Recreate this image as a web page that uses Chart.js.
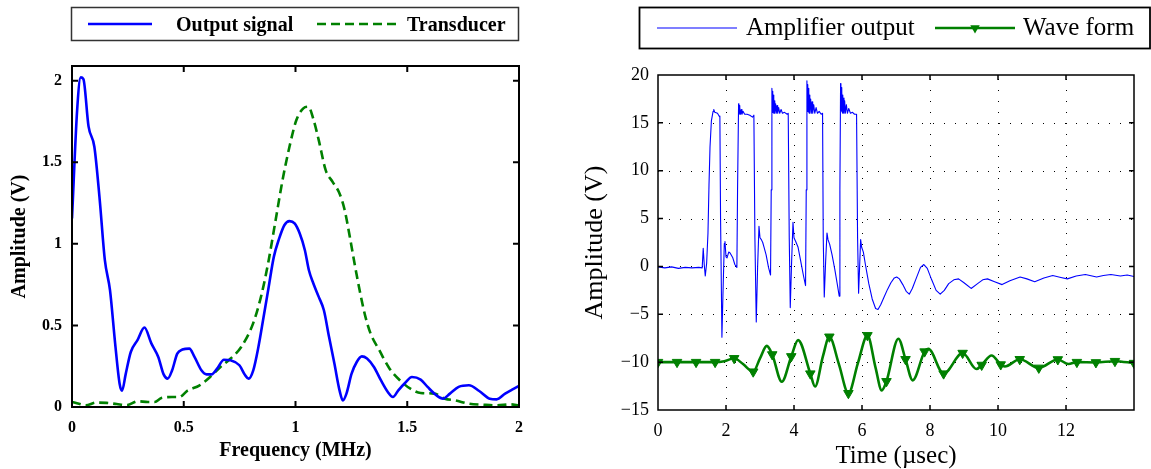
<!DOCTYPE html>
<html>
<head>
<meta charset="utf-8">
<script src="https://cdn.jsdelivr.net/npm/chart.js@4.4.1/dist/chart.umd.min.js"></script>
<style>
    html, body { margin: 0; padding: 0; background: #fff; }
    #wrap { position: relative; width: 1151px; height: 469px; overflow: hidden; }
    canvas { position: absolute; top: 0; }
    #specChart { left: 0; }
    #timeChart { left: 580px; }
</style>
</head>
<body>
<div id="wrap">
    <canvas id="specChart" width="560" height="469"></canvas>
    <canvas id="timeChart" width="571" height="469"></canvas>
</div>
<script>

// =========================================
// DATA - spectrum (left)
// =========================================

var freqTicks = [0, 0.5, 1, 1.5, 2];
var specAmpTicks = [0, 0.5, 1, 1.5, 2];

var outFreq = [0, 0.023, 0.039, 0.051, 0.074, 0.10, 0.124, 0.147, 0.17, 0.193, 0.213, 0.224, 0.24, 0.263, 0.293,
    0.324, 0.355, 0.386, 0.41, 0.428, 0.448, 0.471, 0.494, 0.525, 0.548, 0.579, 0.602, 0.625, 0.649, 0.68,
    0.71, 0.749, 0.775, 0.79, 0.811, 0.834, 0.857, 0.88, 0.903, 0.927, 0.95, 0.973, 0.996, 1.019, 1.042,
    1.06, 1.08, 1.104, 1.127, 1.15, 1.174, 1.197, 1.212, 1.228, 1.251, 1.274, 1.297, 1.32, 1.351, 1.382,
    1.413, 1.436, 1.46, 1.49, 1.521, 1.56, 1.591, 1.63, 1.66, 1.691, 1.73, 1.776, 1.822, 1.869, 1.9,
    1.938, 1.969, 2.0];
var outAmp = [1.155, 1.82, 2.02, 2.01, 1.72, 1.595, 1.27, 0.90, 0.716, 0.39, 0.143, 0.10, 0.20, 0.337, 0.41,
    0.487, 0.39, 0.307, 0.20, 0.174, 0.225, 0.327, 0.352, 0.358, 0.307, 0.225, 0.20, 0.20, 0.235, 0.29,
    0.286, 0.256, 0.194, 0.174, 0.225, 0.368, 0.55, 0.736, 0.92, 1.033, 1.114, 1.139, 1.125, 1.063, 0.961,
    0.838, 0.757, 0.675, 0.593, 0.43, 0.266, 0.102, 0.04, 0.082, 0.204, 0.276, 0.31, 0.297, 0.245, 0.164,
    0.092, 0.061, 0.102, 0.147, 0.184, 0.168, 0.123, 0.072, 0.051, 0.082, 0.123, 0.133, 0.098, 0.051, 0.047,
    0.082, 0.106, 0.129];

var transFreq = [0, 0.031, 0.062, 0.108, 0.154, 0.2, 0.247, 0.293, 0.34, 0.37, 0.40, 0.448, 0.479, 0.517,
    0.571, 0.618, 0.664, 0.71, 0.757, 0.81, 0.849, 0.88, 0.911, 0.942, 0.973, 1.004, 1.035, 1.058, 1.081,
    1.104, 1.135, 1.166, 1.197, 1.22, 1.243, 1.267, 1.29, 1.313, 1.336, 1.375, 1.421, 1.467, 1.514, 1.56,
    1.622, 1.668, 1.714, 1.776, 1.838, 1.9, 1.961, 2.0];
var transAmp = [0.031, 0.02, 0.01, 0.027, 0.025, 0.018, 0.012, 0.035, 0.031, 0.031, 0.055, 0.061, 0.061, 0.10,
    0.133, 0.184, 0.245, 0.297, 0.368, 0.511, 0.695, 0.90, 1.145, 1.39, 1.595, 1.759, 1.83, 1.84, 1.759,
    1.636, 1.452, 1.38, 1.309, 1.207, 1.043, 0.859, 0.695, 0.552, 0.45, 0.348, 0.235, 0.164, 0.112, 0.086,
    0.082, 0.051, 0.041, 0.02, 0.014, 0.01, 0.016, 0.01];

// =========================================
// DATA - time signals (right)
// =========================================

var timeTicks = [0, 2, 4, 6, 8, 10, 12];
var voltTicks = [-15, -10, -5, 0, 5, 10, 15, 20];

var ampTime = [
    0, 0.2, 0.4, 0.6, 0.8, 1.0, 1.2, 1.30,
    1.33, 1.36, 1.39, 1.43, 1.47, 1.50, 1.53, 1.57, 1.62, 1.64, 1.67, 1.75, 1.80, 1.82,
    1.84, 1.88, 1.91, 1.95, 1.97, 2.00, 2.03, 2.08, 2.12, 2.20, 2.26, 2.32,
    2.34, 2.37, 2.38, 2.39, 2.40, 2.41, 2.43, 2.45, 2.47, 2.50, 2.55, 2.62, 2.70, 2.78, 2.82,
    2.85, 2.89, 2.93, 2.97, 3.00, 3.04, 3.08, 3.12, 3.18, 3.25, 3.31,
    3.33, 3.35, 3.36, 3.37, 3.38, 3.39, 3.40, 3.41, 3.42, 3.43, 3.44, 3.46, 3.48, 3.50, 3.52, 3.55, 3.58, 3.62, 3.66, 3.72, 3.80, 3.83,
    3.86, 3.89, 3.93, 3.97, 4.00, 4.05, 4.12, 4.20, 4.28, 4.34,
    4.36, 4.38, 4.39, 4.40, 4.41, 4.42, 4.43, 4.44, 4.45, 4.46, 4.47, 4.49, 4.51, 4.53, 4.55, 4.58, 4.61, 4.65, 4.69, 4.74, 4.80, 4.84,
    4.86, 4.89, 4.93, 4.97, 5.00, 5.05, 5.12, 5.20, 5.28, 5.33,
    5.35, 5.37, 5.38, 5.39, 5.40, 5.41, 5.42, 5.43, 5.44, 5.45, 5.47, 5.49, 5.51, 5.54, 5.57, 5.61, 5.66, 5.72, 5.78, 5.84,
    5.87, 5.90, 5.93, 5.96, 5.99, 6.04, 6.10, 6.20, 6.30, 6.40, 6.47, 6.55, 6.65, 6.75, 6.85, 6.95,
    7.02, 7.10, 7.20, 7.30, 7.39, 7.48, 7.60, 7.72, 7.82, 7.92, 8.05, 8.18, 8.30, 8.42, 8.55, 8.70,
    8.84, 9.00, 9.21, 9.40, 9.55, 9.69, 9.90, 10.12, 10.35, 10.65, 10.85, 11.08, 11.35, 11.61, 11.85,
    12.04, 12.3, 12.57, 12.9, 13.1, 13.32, 13.6, 13.8, 14.0];
var ampVolt = [
    -0.05, -0.15, -0.05, -0.2, -0.1, -0.15, -0.1, -0.15,
    1.9, 0.2, -1.0, 0.3, 3.5, 8.5, 12.5, 15.2, 16.2, 16.4, 16.1, 16.0, 15.7, 15.6,
    5.0, -7.4, -3.0, 2.4, 2.6, 1.0, 0.9, 1.5, 1.4, 0.9, 0.2, -0.1,
    8.0, 17.0, 16.0, 16.8, 15.9, 16.6, 15.9, 16.4, 15.9, 16.2, 15.9, 15.9, 15.8, 15.6, 15.8,
    3.0, -5.8, 0.0, 4.2, 3.0, 2.8, 2.5, 2.0, 1.2, -0.1, -0.9,
    8.0, 18.6, 16.2, 18.3, 16.1, 17.9, 16.0, 17.6, 16.0, 17.3, 16.0, 17.0, 16.0, 16.8, 16.0, 16.6, 16.0, 16.4, 16.0, 16.1, 15.9, 16.0,
    3.0, -4.3, 0.5, 4.6, 3.0, 2.6, 2.0, 0.5, -1.0, -2.0,
    8.0, 19.4, 16.3, 19.0, 16.2, 18.6, 16.1, 18.2, 16.0, 17.9, 16.0, 17.5, 16.0, 17.2, 16.0, 16.9, 16.0, 16.6, 16.0, 16.2, 15.9, 16.0,
    3.0, -3.2, 0.5, 3.5, 2.8, 2.3, 1.2, -0.3, -2.0, -3.1,
    8.0, 19.1, 16.3, 18.7, 16.2, 18.3, 16.1, 17.9, 16.0, 17.6, 16.0, 17.3, 16.0, 16.9, 16.0, 16.5, 16.0, 16.1, 15.9, 15.9,
    3.0, -2.8, 0.0, 2.8, 2.0, 1.5, 0.2, -1.8, -3.4, -4.4, -4.5, -4.0, -3.2, -2.4, -1.7, -1.2,
    -1.1, -1.3, -1.9, -2.6, -2.9, -2.3, -1.2, -0.1, 0.2, -0.2, -1.4, -2.5, -2.9, -2.5, -1.8, -1.4,
    -1.3, -1.7, -2.3, -1.8, -1.4, -1.3, -1.6, -1.9, -1.5, -1.1, -1.3, -1.6, -1.2, -0.95, -1.15,
    -1.3, -1.0, -0.85, -1.1, -0.95, -0.85, -1.0, -0.9, -1.05];

var waveMarkTime = [0, 0.56, 1.12, 1.68, 2.24, 2.80, 3.36, 3.92, 4.48, 5.04, 5.60, 6.16, 6.72,
    7.28, 7.84, 8.40, 8.96, 9.52, 10.08, 10.64, 11.20, 11.76, 12.32, 12.88, 13.44, 14.0];

var waveTime = [0, 0.56, 1.12, 1.68, 1.95, 2.24, 2.5, 2.80, 3.0, 3.20, 3.36, 3.64, 3.92, 4.12, 4.48,
    4.62, 4.85, 5.04, 5.32, 5.60, 5.88, 6.16, 6.40, 6.58, 6.72, 7.07, 7.28, 7.49, 7.84, 7.95, 8.40,
    8.96, 9.37, 9.52, 9.81, 10.08, 10.2, 10.64, 11.20, 11.76, 12.07, 12.32, 12.88, 13.44, 14.0];
var waveVolt = [-10.0, -10.0, -10.0, -10.0, -9.9, -9.6, -10.2, -11.0, -9.6, -8.3, -9.2, -12.05, -9.4, -7.7, -11.2,
    -12.55, -9.4, -7.35, -10.2, -13.25, -10.1, -7.2, -10.6, -12.95, -12.0, -7.55, -9.7, -11.9, -8.9, -8.6, -11.2,
    -9.05, -10.72, -10.3, -9.3, -10.25, -10.45, -9.7, -10.6, -9.72, -10.2, -10.0, -10.03, -9.9, -10.1];

// =========================================
// PLUGINS
// =========================================

function framePlugin(cfg) {

    return {
        id: "frame",

        beforeDatasetsDraw: function (chart) {

            if (!cfg.grid) {
                return;
            }

            var ctx = chart.ctx, a = chart.chartArea, xs = chart.scales.x, ys = chart.scales.y;

            ctx.save();
            ctx.strokeStyle = "#000";
            ctx.lineWidth = 1;
            ctx.setLineDash([1, 10]);

            xs.ticks.forEach(function (t) {
                if (t.value <= xs.min || t.value >= xs.max) return;
                var px = Math.round(xs.getPixelForValue(t.value)) + 0.5;
                ctx.beginPath();
                ctx.moveTo(px, a.bottom);
                ctx.lineTo(px, a.top);
                ctx.stroke();
            });

            ys.ticks.forEach(function (t) {
                if (t.value <= ys.min || t.value >= ys.max) return;
                var py = Math.round(ys.getPixelForValue(t.value)) + 0.5;
                ctx.beginPath();
                ctx.moveTo(a.left, py);
                ctx.lineTo(a.right, py);
                ctx.stroke();
            });

            ctx.restore();
        },

        afterDatasetsDraw: function (chart) {

            var ctx = chart.ctx, a = chart.chartArea, xs = chart.scales.x, ys = chart.scales.y;
            var len = cfg.tickLength;

            ctx.save();
            ctx.strokeStyle = "#000";
            ctx.lineWidth = cfg.lineWidth;
            ctx.setLineDash([]);

            ctx.beginPath();

            xs.ticks.forEach(function (t) {
                if (t.value <= xs.min || t.value >= xs.max) return;
                var px = xs.getPixelForValue(t.value);
                ctx.moveTo(px, a.bottom);
                ctx.lineTo(px, a.bottom - len);
                ctx.moveTo(px, a.top);
                ctx.lineTo(px, a.top + len);
            });

            ys.ticks.forEach(function (t) {
                if (t.value <= ys.min || t.value >= ys.max) return;
                var py = ys.getPixelForValue(t.value);
                ctx.moveTo(a.left, py);
                ctx.lineTo(a.left + len, py);
                ctx.moveTo(a.right, py);
                ctx.lineTo(a.right - len, py);
            });

            ctx.stroke();

            ctx.strokeRect(a.left, a.top, a.right - a.left, a.bottom - a.top);
            ctx.restore();
        }
    };
}

function legendPlugin(cfg) {

    return {
        id: "boxLegend",

        afterDraw: function (chart) {

            var ctx = chart.ctx;
            var y = (cfg.box[1] + cfg.box[3]) / 2;

            ctx.save();

            ctx.lineWidth = cfg.frameWidth;
            ctx.strokeStyle = cfg.frameColor;
            ctx.setLineDash([]);
            ctx.strokeRect(cfg.box[0], cfg.box[1], cfg.box[2] - cfg.box[0], cfg.box[3] - cfg.box[1]);

            cfg.items.forEach(function (it) {

                ctx.beginPath();
                ctx.strokeStyle = it.color;
                ctx.lineWidth = it.width;
                ctx.setLineDash(it.dash || []);
                ctx.moveTo(it.from, y);
                ctx.lineTo(it.to, y);
                ctx.stroke();
                ctx.setLineDash([]);

                if (it.marker) {
                    var mx = (it.from + it.to) / 2, r = it.marker;
                    ctx.beginPath();
                    ctx.moveTo(mx - r * 0.866, y - r * 0.5);
                    ctx.lineTo(mx + r * 0.866, y - r * 0.5);
                    ctx.lineTo(mx, y + r);
                    ctx.closePath();
                    ctx.fillStyle = it.color;
                    ctx.fill();
                }

                ctx.fillStyle = "#000";
                ctx.font = cfg.font;
                ctx.textBaseline = "alphabetic";
                ctx.fillText(it.text, it.textX, cfg.baseline);
            });

            ctx.restore();
        }
    };
}

function xy(xArr, yArr) {
    return xArr.map(function (v, i) {
        return { x: v, y: yArr[i] };
    });
}

var BLUE = "#0000ff";
var GREEN = "#008000";

// =========================================
// LEFT CHART - SPECTRUM
// =========================================

var boldTick = { family: "Liberation Serif", size: 16, weight: "bold" };
var boldTitle = { family: "Liberation Serif", size: 20, weight: "bold", lineHeight: 1 };

new Chart(document.getElementById("specChart"), {

    type: "line",

    data: {
        datasets: [{
            label: "Output signal",
            data: xy(outFreq, outAmp),
            borderColor: BLUE,
            borderWidth: 2.6,
            pointRadius: 0,
            cubicInterpolationMode: "monotone"
        }, {
            label: "Transducer",
            data: xy(transFreq, transAmp),
            borderColor: GREEN,
            borderWidth: 2.6,
            borderDash: [9, 5],
            pointRadius: 0,
            cubicInterpolationMode: "monotone"
        }]
    },

    options: {
        responsive: false,
        animation: false,
        events: [],
        layout: { padding: { top: 66, right: 41, left: 0, bottom: 0 } },

        plugins: {
            legend: { display: false },
            tooltip: { enabled: false }
        },

        scales: {
            x: {
                type: "linear",
                min: 0,
                max: 2,
                afterBuildTicks: function (s) {
                    s.ticks = freqTicks.map(function (v) { return { value: v }; });
                },
                afterFit: function (s) { s.height = 62; },
                grid: { display: false, drawTicks: false },
                border: { display: false },
                ticks: {
                    padding: 11,
                    color: "#000",
                    font: boldTick,
                    autoSkip: false,
                    maxRotation: 0,
                    callback: function (v) { return String(v); }
                },
                title: {
                    display: true,
                    text: "Frequency (MHz)",
                    color: "#000",
                    font: boldTitle,
                    padding: { top: 0, bottom: 8 }
                }
            },
            y: {
                type: "linear",
                min: 0,
                max: 2.09,
                afterBuildTicks: function (s) {
                    s.ticks = specAmpTicks.map(function (v) { return { value: v }; });
                },
                afterFit: function (s) { s.width = 72; },
                grid: { display: false, drawTicks: false },
                border: { display: false },
                ticks: {
                    padding: 10,
                    color: "#000",
                    font: boldTick,
                    autoSkip: false,
                    callback: function (v) { return String(v); }
                },
                title: {
                    display: true,
                    text: "Amplitude (V)",
                    color: "#000",
                    font: boldTitle,
                    padding: { top: 10, bottom: 0 }
                }
            }
        }
    },

    plugins: [
        framePlugin({ grid: false, tickLength: 6, lineWidth: 2 }),
        legendPlugin({
            box: [71.5, 7.5, 518.5, 40.5],
            frameWidth: 1.5,
            frameColor: "#333",
            font: "bold 20px 'Liberation Serif'",
            baseline: 31,
            items: [
                { from: 88, to: 152, color: BLUE, width: 2.6, text: "Output signal", textX: 176 },
                { from: 317, to: 398, color: GREEN, width: 2.6, dash: [9, 5], text: "Transducer", textX: 407 }
            ]
        })
    ]
});

// =========================================
// RIGHT CHART - TIME SIGNALS
// =========================================

var plainTick = { family: "Liberation Serif", size: 18 };
var plainTitle = { family: "Liberation Serif", size: 25, lineHeight: 1 };

new Chart(document.getElementById("timeChart"), {

    type: "line",

    data: {
        datasets: [{
            label: "Amplifier output",
            data: xy(ampTime, ampVolt),
            borderColor: BLUE,
            borderWidth: 1.1,
            borderJoinStyle: "round",
            pointRadius: 0,
            tension: 0
        }, {
            label: "Wave form",
            data: xy(waveTime, waveVolt),
            borderColor: GREEN,
            borderWidth: 2.6,
            cubicInterpolationMode: "monotone",
            pointStyle: "triangle",
            rotation: 180,
            pointRadius: function (c) {
                return waveMarkTime.indexOf(waveTime[c.dataIndex]) >= 0 ? 5.5 : 0;
            },
            pointBackgroundColor: GREEN,
            pointBorderColor: GREEN,
            pointBorderWidth: 1
        }]
    },

    options: {
        responsive: false,
        animation: false,
        events: [],
        layout: { padding: { top: 75, right: 17, left: 0, bottom: 0 } },

        plugins: {
            legend: { display: false },
            tooltip: { enabled: false }
        },

        scales: {
            x: {
                type: "linear",
                min: 0,
                max: 14,
                afterBuildTicks: function (s) {
                    s.ticks = timeTicks.map(function (v) { return { value: v }; });
                },
                afterFit: function (s) { s.height = 59; },
                grid: { display: false, drawTicks: false },
                border: { display: false },
                ticks: { padding: 10, color: "#000", font: plainTick, autoSkip: false, maxRotation: 0 },
                title: {
                    display: true,
                    text: "Time (\u00b5sec)",
                    color: "#000",
                    font: plainTitle,
                    padding: { top: 0, bottom: 0 }
                }
            },
            y: {
                type: "linear",
                min: -15,
                max: 20,
                afterBuildTicks: function (s) {
                    s.ticks = voltTicks.map(function (v) { return { value: v }; });
                },
                afterFit: function (s) { s.width = 78; },
                grid: { display: false, drawTicks: false },
                border: { display: false },
                ticks: {
                    padding: 9,
                    color: "#000",
                    font: plainTick,
                    autoSkip: false,
                    callback: function (v) {
                        return v < 0 ? "\u2212" + Math.abs(v) : String(v);
                    }
                },
                title: {
                    display: true,
                    text: "Amplitude (V)",
                    color: "#000",
                    font: { family: "Liberation Serif", size: 26, lineHeight: 1 },
                    padding: { top: 2, bottom: 0 }
                }
            }
        }
    },

    plugins: [
        framePlugin({ grid: true, tickLength: 5, lineWidth: 1.5 }),
        legendPlugin({
            box: [59.5, 7.5, 570, 48.5],
            frameWidth: 1.8,
            frameColor: "#000",
            font: "25px 'Liberation Serif'",
            baseline: 35,
            items: [
                { from: 77, to: 157, color: BLUE, width: 1.1, text: "Amplifier output", textX: 166 },
                { from: 355, to: 435, color: GREEN, width: 2.6, marker: 5.5, text: "Wave form", textX: 443 }
            ]
        })
    ]
});

</script>
</body>
</html>
